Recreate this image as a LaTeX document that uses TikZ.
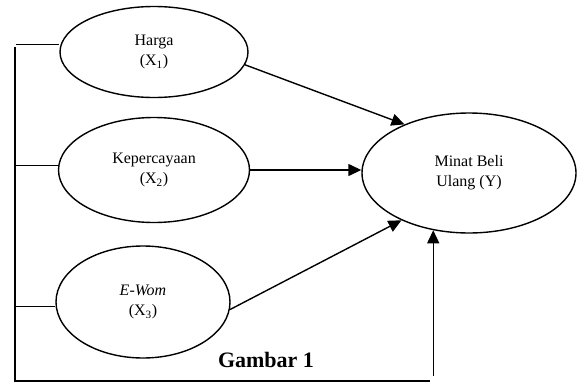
\documentclass[tikz,border=0pt]{standalone}
\usepackage{fontspec}
\setmainfont{Liberation Serif}
\usetikzlibrary{shapes.geometric,arrows.meta}
\begin{document}
\begin{tikzpicture}[x=1pt,y=-1pt,
  var/.style={draw,ellipse,line width=1.4pt,inner sep=0pt,align=center,font=\fontsize{16}{20}\selectfont},
  link/.style={line width=1.4pt},
  thin/.style={line width=0.8pt},
  arr/.style={line width=1.4pt,-{Triangle[length=13pt,width=12pt]}}]
\useasboundingbox (0,0) rectangle (578,383);
\node[var,minimum width=188pt,minimum height=91pt] (x1) at (154,52) {Harga\\(X\textsubscript{1})};
\node[var,minimum width=191pt,minimum height=105pt] (x2) at (154,170) {Kepercayaan\\(X\textsubscript{2})};
\node[var,minimum width=174pt,minimum height=112pt] (x3) at (143,302) {\textit{E-Wom}\\(X\textsubscript{3})};
\node[var,minimum width=214pt,minimum height=120pt] (y) at (469,173) {Minat Beli\\Ulang (Y)};
\node[font=\bfseries\fontsize{22}{24}\selectfont] (cap) at (266,360) {Gambar 1};
\coordinate (h1) at (16,44);
\coordinate (h2) at (15,165);
\coordinate (h3) at (15,306);
\coordinate (vt) at (15,47);
\coordinate (bl) at (15,381);
\coordinate (br) at (430,381);
\coordinate (ab) at (434,376);
\draw[thin] (h1) -- (x1.west |- h1);
\draw[thin] (h2) -- (x2.west |- h2);
\draw[thin] (h3) -- (x3.west |- h3);
\draw[link] (vt) -- (bl) -- (br);
\draw[arr] (y.238.3 |- ab) -- (y.238.3);
\draw[arr] (x1.-8) -- (y.143);
\draw[arr] (x2.east) -- (y.west |- x2.east);
\draw[arr] (x3.-5) -- (y.215);
\end{tikzpicture}
\end{document}
